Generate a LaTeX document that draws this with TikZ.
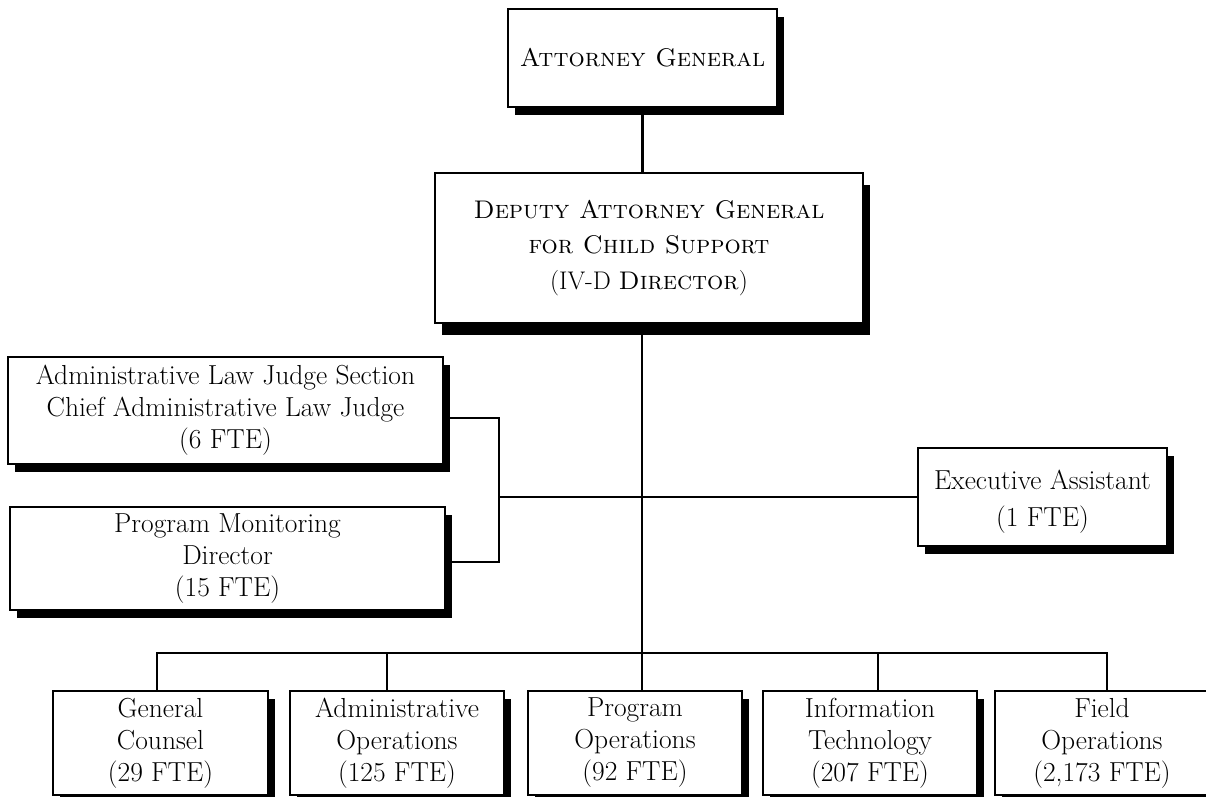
\documentclass[tikz,border=0pt]{standalone}
\usetikzlibrary{shadows}
\begin{document}
\begin{tikzpicture}[x=1pt,y=-1pt,
  base/.style={draw, line width=2.5pt, fill=white, inner sep=0pt, outer sep=0pt,
    align=center, font=\fontsize{27.5}{32}\selectfont},
  org/.style={base, drop shadow={shadow xshift=7pt, shadow yshift=#1, opacity=1, fill=black}},
  org/.default=-8pt,
  link/.style={line width=2.1pt}]
\useasboundingbox (0,0) rectangle (1206,796);
% top
\node[org, minimum width=269pt, minimum height=98pt, font=\fontsize{25.5}{32}\selectfont] (ag) at (642.5,58) {\textsc{Attorney General}};
\node[org=-12pt, minimum width=428pt, minimum height=150pt, font=\fontsize{25.5}{35.5}\selectfont] (dep) at (649,248)
  {\textsc{Deputy Attorney General}\\\textsc{for Child Support}\\(IV-D \textsc{Director})};
% staff
\node[org, minimum width=435pt, minimum height=107pt] (alj) at (225.5,410.5)
  {Administrative Law Judge Section\\Chief Administrative Law Judge\\(6 FTE)};
\node[org, minimum width=435pt, minimum height=103pt] (pm) at (227.5,558.5)
  {Program Monitoring\\Director\\(15 FTE)};
\node[org, minimum width=249pt, minimum height=98pt, font=\fontsize{27.5}{37}\selectfont] (ex) at (1042.5,497)
  {\rule{0pt}{29pt}Executive Assistant\\(1 FTE)};
% bottom row
\node[org, minimum width=215pt, minimum height=104pt] (gc) at (160.5,743) {General\\Counsel\\(29 FTE)};
\node[org, minimum width=214pt, minimum height=104pt] (ao) at (397,743) {Administrative\\Operations\\(125 FTE)};
\node[org, minimum width=214pt, minimum height=104pt] (po) at (635,743) {Program\\Operations\\(92 FTE)};
\node[org, minimum width=214pt, minimum height=104pt] (it) at (870,743) {Information\\Technology\\(207 FTE)};
\node[org, minimum width=214pt, minimum height=104pt] (fo) at (1102,743) {Field\\Operations\\(2,173 FTE)};
% connectors
\coordinate (bus) at (642,653);
\coordinate (br) at (499,497);
\draw[link] (ag.south) -- (ag.south |- dep.north);
\draw[link] (dep.south -| bus) -- (bus);
\draw[link] (br) -- (ex.west);
\draw[link] ([yshift=-7.5pt]alj.east) -| (br) |- ([yshift=-3.5pt]pm.east);
\draw[link] ([xshift=-3.5pt]gc.north) |- ([xshift=5pt]fo.north |- bus) -- ([xshift=5pt]fo.north);
\draw[link] ([xshift=-10pt]ao.north) -- ([xshift=-10pt]ao.north |- bus);
\draw[link] ([xshift=7pt]po.north) -- ([xshift=7pt]po.north |- bus);
\draw[link] ([xshift=8pt]it.north) -- ([xshift=8pt]it.north |- bus);
\end{tikzpicture}
\end{document}
